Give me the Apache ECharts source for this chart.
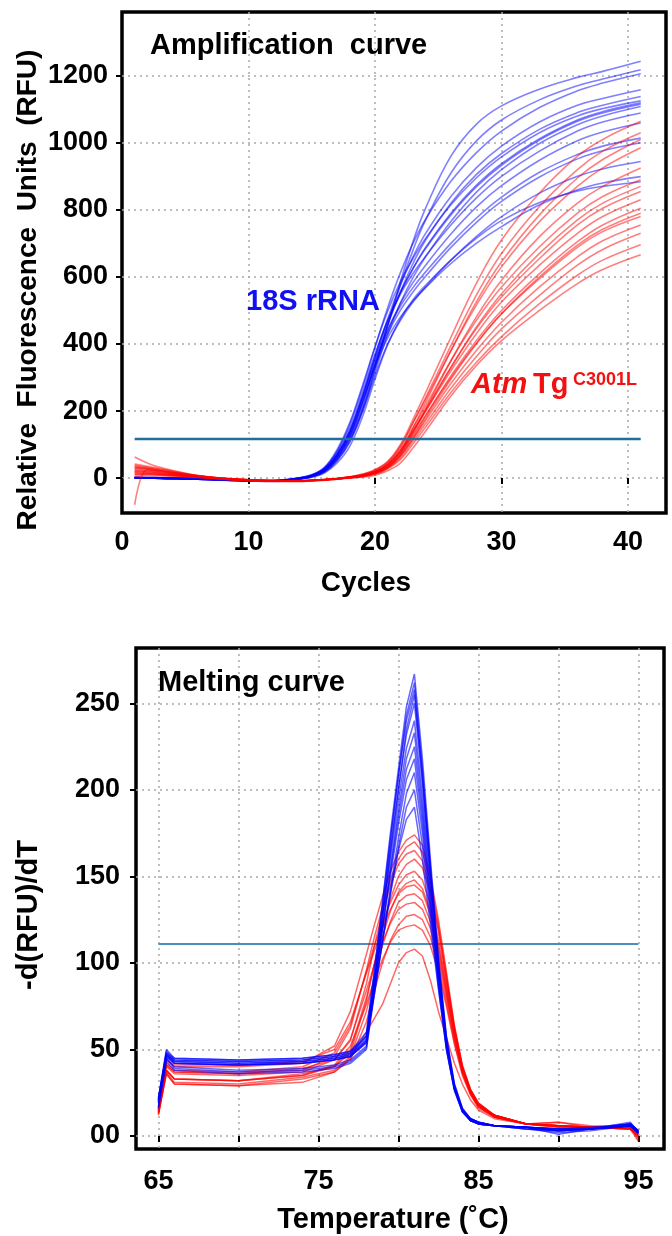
<!DOCTYPE html>
<html><head><meta charset="utf-8">
<script src="https://cdn.jsdelivr.net/npm/echarts@6/dist/echarts.min.js"></script>
<style>html,body{margin:0;padding:0;background:#fff}#c{width:672px;height:1236px}</style>
</head><body><div id="c"></div>
<script>
// ---------- Amplification curve data ----------
const cycles = [1,2,3,6,9,12,14,15,16,17,18,19,20,21,22,23,24,26,28,30,33,36,38,41];
const ampXTicks = [0,10,20,30,40];
const ampYTicks = [0,200,400,600,800,1000,1200];
const ampThreshold = 117;
const ampThresholdSpan = [1,41];
const ampBlue = [
 [2,2,1,-2,-6,-8,-2,6,22,58,116,205,325,455,585,705,805,960,1055,1110,1160,1195,1213,1243],
 [0,1,0,-3,-7,-9,-3,5,20,56,116,208,330,455,575,680,770,910,1005,1068,1128,1170,1190,1218],
 [3,2,2,-1,-5,-7,0,9,30,80,160,268,390,508,612,700,772,885,970,1035,1105,1155,1178,1206],
 [1,1,0,-2,-6,-8,-1,7,26,70,140,242,360,475,575,660,730,840,925,990,1062,1112,1132,1158],
 [0,0,-1,-3,-7,-9,-2,5,22,62,125,222,340,455,555,640,710,820,905,968,1040,1090,1112,1138],
 [2,1,1,-2,-6,-7,1,10,32,85,165,275,392,498,585,655,715,815,895,958,1030,1080,1102,1125],
 [1,1,0,-3,-7,-8,-1,7,25,68,135,238,355,462,552,625,688,790,873,938,1012,1068,1093,1119],
 [0,1,0,-2,-6,-8,0,8,28,72,140,245,365,470,555,625,685,785,868,933,1008,1064,1089,1115],
 [1,0,0,-3,-8,-10,-3,4,18,52,108,198,315,428,522,598,660,765,852,920,998,1054,1080,1108],
 [2,2,1,-1,-5,-7,1,9,30,78,150,255,370,470,548,610,662,755,835,900,975,1035,1062,1089],
 [0,0,-1,-3,-7,-9,-2,5,21,60,124,222,338,440,520,583,635,728,808,872,948,1006,1032,1059],
 [1,1,0,-2,-6,-8,0,8,27,70,138,240,350,442,512,568,615,700,775,838,912,965,990,1014],
 [2,1,1,-2,-6,-8,-1,6,23,64,128,228,338,430,500,555,602,688,762,825,898,952,976,1000],
 [0,0,-1,-3,-7,-9,-2,4,18,52,108,198,305,400,470,525,570,650,720,780,850,900,922,944],
 [1,1,0,-2,-6,-8,-1,6,24,65,130,228,332,418,480,528,568,640,700,750,815,860,880,899],
 [0,0,-1,-3,-7,-9,-3,3,15,45,95,182,295,398,475,532,575,650,715,768,822,856,870,884]
];
const ampRed = [
 [30,28,22,6,-4,-8,-8,-6,-4,-1,4,12,25,50,100,175,255,420,580,710,850,960,1010,1064],
 [42,35,28,8,-3,-7,-8,-7,-5,-2,3,10,22,45,92,165,240,395,545,670,810,920,975,1030],
 [20,18,14,4,-5,-9,-9,-7,-5,-2,2,8,18,38,80,150,225,380,525,645,785,895,950,1010],
 [35,30,24,7,-3,-7,-8,-6,-4,-1,4,11,24,48,95,165,235,380,515,630,765,870,925,985],
 [10,12,10,3,-5,-9,-10,-8,-6,-3,1,6,15,33,70,135,205,350,480,590,720,820,870,925],
 [-80,25,20,5,-4,-8,-8,-7,-5,-2,3,9,20,42,85,150,215,350,470,570,690,790,840,890],
 [25,22,17,5,-4,-8,-9,-7,-5,-2,2,7,17,36,75,138,200,330,450,550,670,770,820,870],
 [15,14,11,3,-5,-9,-9,-7,-5,-2,2,8,18,40,80,142,205,330,445,540,655,755,805,855],
 [38,32,26,7,-3,-7,-8,-6,-4,-1,3,9,20,42,82,140,200,320,430,525,635,730,780,830],
 [28,25,20,6,-4,-8,-8,-7,-5,-2,2,7,16,34,70,125,185,305,410,500,610,705,755,805],
 [5,8,7,2,-6,-10,-10,-8,-6,-3,1,5,13,30,65,118,178,295,400,490,600,695,742,790],
 [63,45,32,8,-3,-7,-8,-6,-4,-1,3,8,18,38,76,130,188,300,402,490,595,688,735,780],
 [18,16,13,4,-5,-9,-9,-7,-5,-2,2,7,16,33,66,118,172,282,380,465,570,660,708,755],
 [32,28,22,6,-4,-8,-8,-7,-5,-2,2,6,14,30,60,110,162,268,362,445,545,635,682,730],
 [12,12,10,3,-5,-9,-9,-7,-5,-2,1,5,12,28,55,102,152,255,345,422,520,605,650,696],
 [22,20,16,5,-4,-8,-9,-7,-5,-3,0,3,9,22,45,90,140,245,335,410,500,580,622,666]
];

// ---------- Melting curve data ----------
const temps = [65,65.5,66,70,74,76,77,78,78.5,79,79.5,80,80.5,81,81.5,82,82.5,83,83.5,84,84.5,85,86,88,90,92,94.5,95];
const meltXTicks = [65,75,85,95];
const meltYTicks = [0,50,100,150,200,250];
const meltYLabels = ['00','50','100','150','200','250'];
const meltThreshold = 111;
const meltThresholdSpan = [65,95];
const meltBlue = [
 [21,49,44,43,44,46,48,58,95,135,175,212,248,267,218,160,104,58,30,16,10,8,6,5,3,4,7,2],
 [19,47,42,41,42,44,46,55,90,130,170,208,243,262,212,156,100,56,29,15,10,8,6,5,4,4,6,3],
 [22,50,45,44,45,47,49,60,96,134,172,208,240,258,210,155,100,57,30,16,10,8,6,5,3,4,8,2],
 [17,45,39,37,38,40,43,51,86,125,164,200,235,255,206,152,98,55,28,15,9,7,6,4,2,3,6,1],
 [20,48,43,42,43,45,47,56,90,128,165,200,232,250,204,150,97,55,29,15,10,8,6,5,4,4,7,3],
 [21,47,44,43,44,46,48,57,90,126,160,194,224,240,196,146,95,54,28,15,10,8,6,5,1,4,6,2],
 [17,45,40,38,39,41,44,52,85,120,155,188,218,233,190,142,93,53,28,15,9,7,6,5,4,5,7,3],
 [19,46,42,41,42,44,46,54,86,120,153,184,212,225,185,138,92,52,27,14,9,7,6,4,3,4,6,2],
 [22,48,45,44,45,47,49,58,88,120,150,180,206,218,180,135,90,52,28,15,10,8,6,5,4,4,7,3],
 [16,43,38,36,37,39,42,50,82,113,143,172,198,210,175,132,88,51,27,14,9,7,6,5,3,4,6,2],
 [20,46,42,41,42,44,46,54,83,112,140,167,190,200,168,128,86,50,27,14,9,7,6,5,4,4,7,3],
 [21,47,43,42,43,45,47,55,82,112,140,165,183,190,160,122,85,50,26,14,9,7,6,4,3,4,6,2]
];
const meltRed = [
 [16,44,40,40,42,52,72,105,122,138,153,164,171,174,168,150,125,95,64,41,27,19,12,7,6,5,5,1],
 [14,41,37,36,38,46,62,96,115,132,148,160,167,170,164,147,122,93,63,40,27,19,12,7,5,5,4,0],
 [15,41,37,36,39,44,55,88,110,129,145,157,163,165,159,143,120,91,62,40,26,18,12,7,6,5,5,2],
 [13,38,33,32,36,40,48,78,100,120,137,150,157,160,155,140,118,90,62,40,27,19,12,7,6,5,5,1],
 [15,42,38,37,40,48,64,95,110,123,135,145,151,153,148,134,113,87,60,39,26,18,12,7,8,6,5,-2],
 [14,38,33,32,35,40,50,80,99,115,130,141,146,148,143,130,110,85,59,38,26,18,11,7,6,5,4,0],
 [16,44,41,41,43,50,66,94,107,120,131,140,144,145,141,128,108,84,58,38,26,18,12,7,6,5,5,2],
 [13,37,31,30,34,38,46,72,92,110,124,135,139,140,136,124,105,82,57,37,25,17,11,7,8,5,4,-3],
 [15,40,36,35,37,44,56,84,99,112,123,131,134,135,131,120,102,80,56,37,25,17,11,7,6,5,5,1],
 [12,36,30,29,33,37,44,66,84,100,113,122,127,128,125,115,98,77,54,36,24,17,11,7,5,5,4,0],
 [14,38,33,32,35,41,52,76,90,102,112,119,121,122,119,110,95,75,53,35,24,16,11,7,6,5,5,2],
 [13,36,30,29,31,37,45,60,68,76,88,100,106,108,104,90,72,57,42,30,21,15,10,7,6,5,4,-1]
];

// ---------- Chart ----------
const FONT = "'Liberation Sans', Arial, Helvetica, sans-serif";
const chart = echarts.init(document.getElementById('c'), null, {renderer: 'canvas'});
const pairs = (xs, ys) => xs.map((x, i) => [x, ys[i]]);
const near = (arr, v) => arr.findIndex(t => Math.abs(t - v) < 1e-6);

const splitLine = {show: true, showMinLine: false, showMaxLine: false,
  lineStyle: {color: '#a9a9a9', width: 1.5, type: [2, 4]}};
const axisTick = {show: true, inside: false, length: 6, lineStyle: {color: '#000', width: 2}};
const labelBase = {color: '#000', fontFamily: FONT, fontWeight: 'bold', fontSize: 27,
  showMinLabel: false, showMaxLabel: false};

const series = [];
ampBlue.forEach(c => series.push({type: 'line', xAxisIndex: 0, yAxisIndex: 0, data: pairs(cycles, c),
  showSymbol: false, smooth: 0.4, silent: true, z: 2,
  lineStyle: {color: '#0000ff', width: 1.6, opacity: 0.5}}));
ampRed.forEach(c => series.push({type: 'line', xAxisIndex: 0, yAxisIndex: 0, data: pairs(cycles, c),
  showSymbol: false, smooth: 0.4, silent: true, z: 3,
  lineStyle: {color: '#ff0000', width: 1.6, opacity: 0.5}}));
series.push({type: 'line', xAxisIndex: 0, yAxisIndex: 0, silent: true, z: 5, showSymbol: false,
  data: ampThresholdSpan.map(x => [x, ampThreshold]), lineStyle: {color: '#1f6e9c', width: 2.5}});

series.push({type: 'line', xAxisIndex: 1, yAxisIndex: 1, silent: true, z: 1, showSymbol: false,
  data: meltThresholdSpan.map(x => [x, meltThreshold]), lineStyle: {color: '#4a8fbf', width: 2}});
meltRed.forEach(c => series.push({type: 'line', xAxisIndex: 1, yAxisIndex: 1, data: pairs(temps, c),
  showSymbol: false, silent: true, z: 2, lineStyle: {color: '#ff0000', width: 1.5, opacity: 0.6}}));
meltBlue.forEach(c => series.push({type: 'line', xAxisIndex: 1, yAxisIndex: 1, data: pairs(temps, c),
  showSymbol: false, silent: true, z: 3, lineStyle: {color: '#0000ff', width: 1.5, opacity: 0.6}}));

const txt = (x, y, text, o) => ({type: 'text', x: x, y: y, silent: true, z: 100,
  style: Object.assign({text: text, fill: '#000', fontFamily: FONT, fontWeight: 'bold', fontSize: 29,
    align: 'left', verticalAlign: 'middle'}, o || {})});

const graphic = [
  txt(150, 46, 'Amplification  curve'),
  txt(313, 302, '18S rRNA', {fill: '#1010f2', align: 'center'}),
  txt(471, 385, 'Atm', {fill: '#f21010', fontStyle: 'italic'}),
  txt(533, 385, 'Tg', {fill: '#f21010'}),
  txt(573, 380, 'C3001L', {fill: '#f21010', fontSize: 18}),
  Object.assign(txt(28, 290, 'Relative  Fluorescence  Units  (RFU)', {align: 'center', fontSize: 28}), {rotation: Math.PI / 2}),
  txt(366, 583, 'Cycles', {align: 'center', fontSize: 28}),
  txt(158, 683, 'Melting curve'),
  Object.assign(txt(29, 915, '-d(RFU)/dT', {align: 'center'}), {rotation: Math.PI / 2}),
  txt(393, 1220, 'Temperature (\u02DAC)', {align: 'center'})
];

chart.setOption({
  animation: false,
  backgroundColor: '#fff',
  grid: [
    {left: 122, top: 12, width: 544, height: 501, show: true, borderColor: '#000', borderWidth: 3.5, backgroundColor: '#fff'},
    {left: 136, top: 648, width: 528, height: 501, show: true, borderColor: '#000', borderWidth: 3.5, backgroundColor: '#fff'}
  ],
  xAxis: [
    {type: 'value', gridIndex: 0, min: 0, max: 43, minInterval: 10, maxInterval: 10,
      axisLine: {show: false}, axisTick: axisTick, splitLine: splitLine,
      axisLabel: Object.assign({}, labelBase, {margin: 16, showMinLabel: true,
        formatter: v => near(ampXTicks, v) >= 0 ? String(ampXTicks[near(ampXTicks, v)]) : ''})},
    {type: 'value', gridIndex: 1, min: 63.6, max: 96.6, minInterval: 5, maxInterval: 5,
      axisLine: {show: false}, axisTick: axisTick, splitLine: splitLine,
      axisLabel: Object.assign({}, labelBase, {margin: 19,
        formatter: v => near(meltXTicks, v) >= 0 ? String(meltXTicks[near(meltXTicks, v)]) : ''})}
  ],
  yAxis: [
    {type: 'value', gridIndex: 0, min: -104, max: 1390, minInterval: 200, maxInterval: 200,
      axisLine: {show: false}, axisTick: axisTick, splitLine: splitLine,
      axisLabel: Object.assign({}, labelBase, {margin: 14,
        formatter: v => near(ampYTicks, v) >= 0 ? String(ampYTicks[near(ampYTicks, v)]) : ''})},
    {type: 'value', gridIndex: 1, min: -7.5, max: 282, minInterval: 50, maxInterval: 50,
      axisLine: {show: false}, axisTick: axisTick, splitLine: splitLine,
      axisLabel: Object.assign({}, labelBase, {margin: 16,
        formatter: v => near(meltYTicks, v) >= 0 ? meltYLabels[near(meltYTicks, v)] : ''})}
  ],
  graphic: graphic,
  series: series
});
</script>
</body></html>
